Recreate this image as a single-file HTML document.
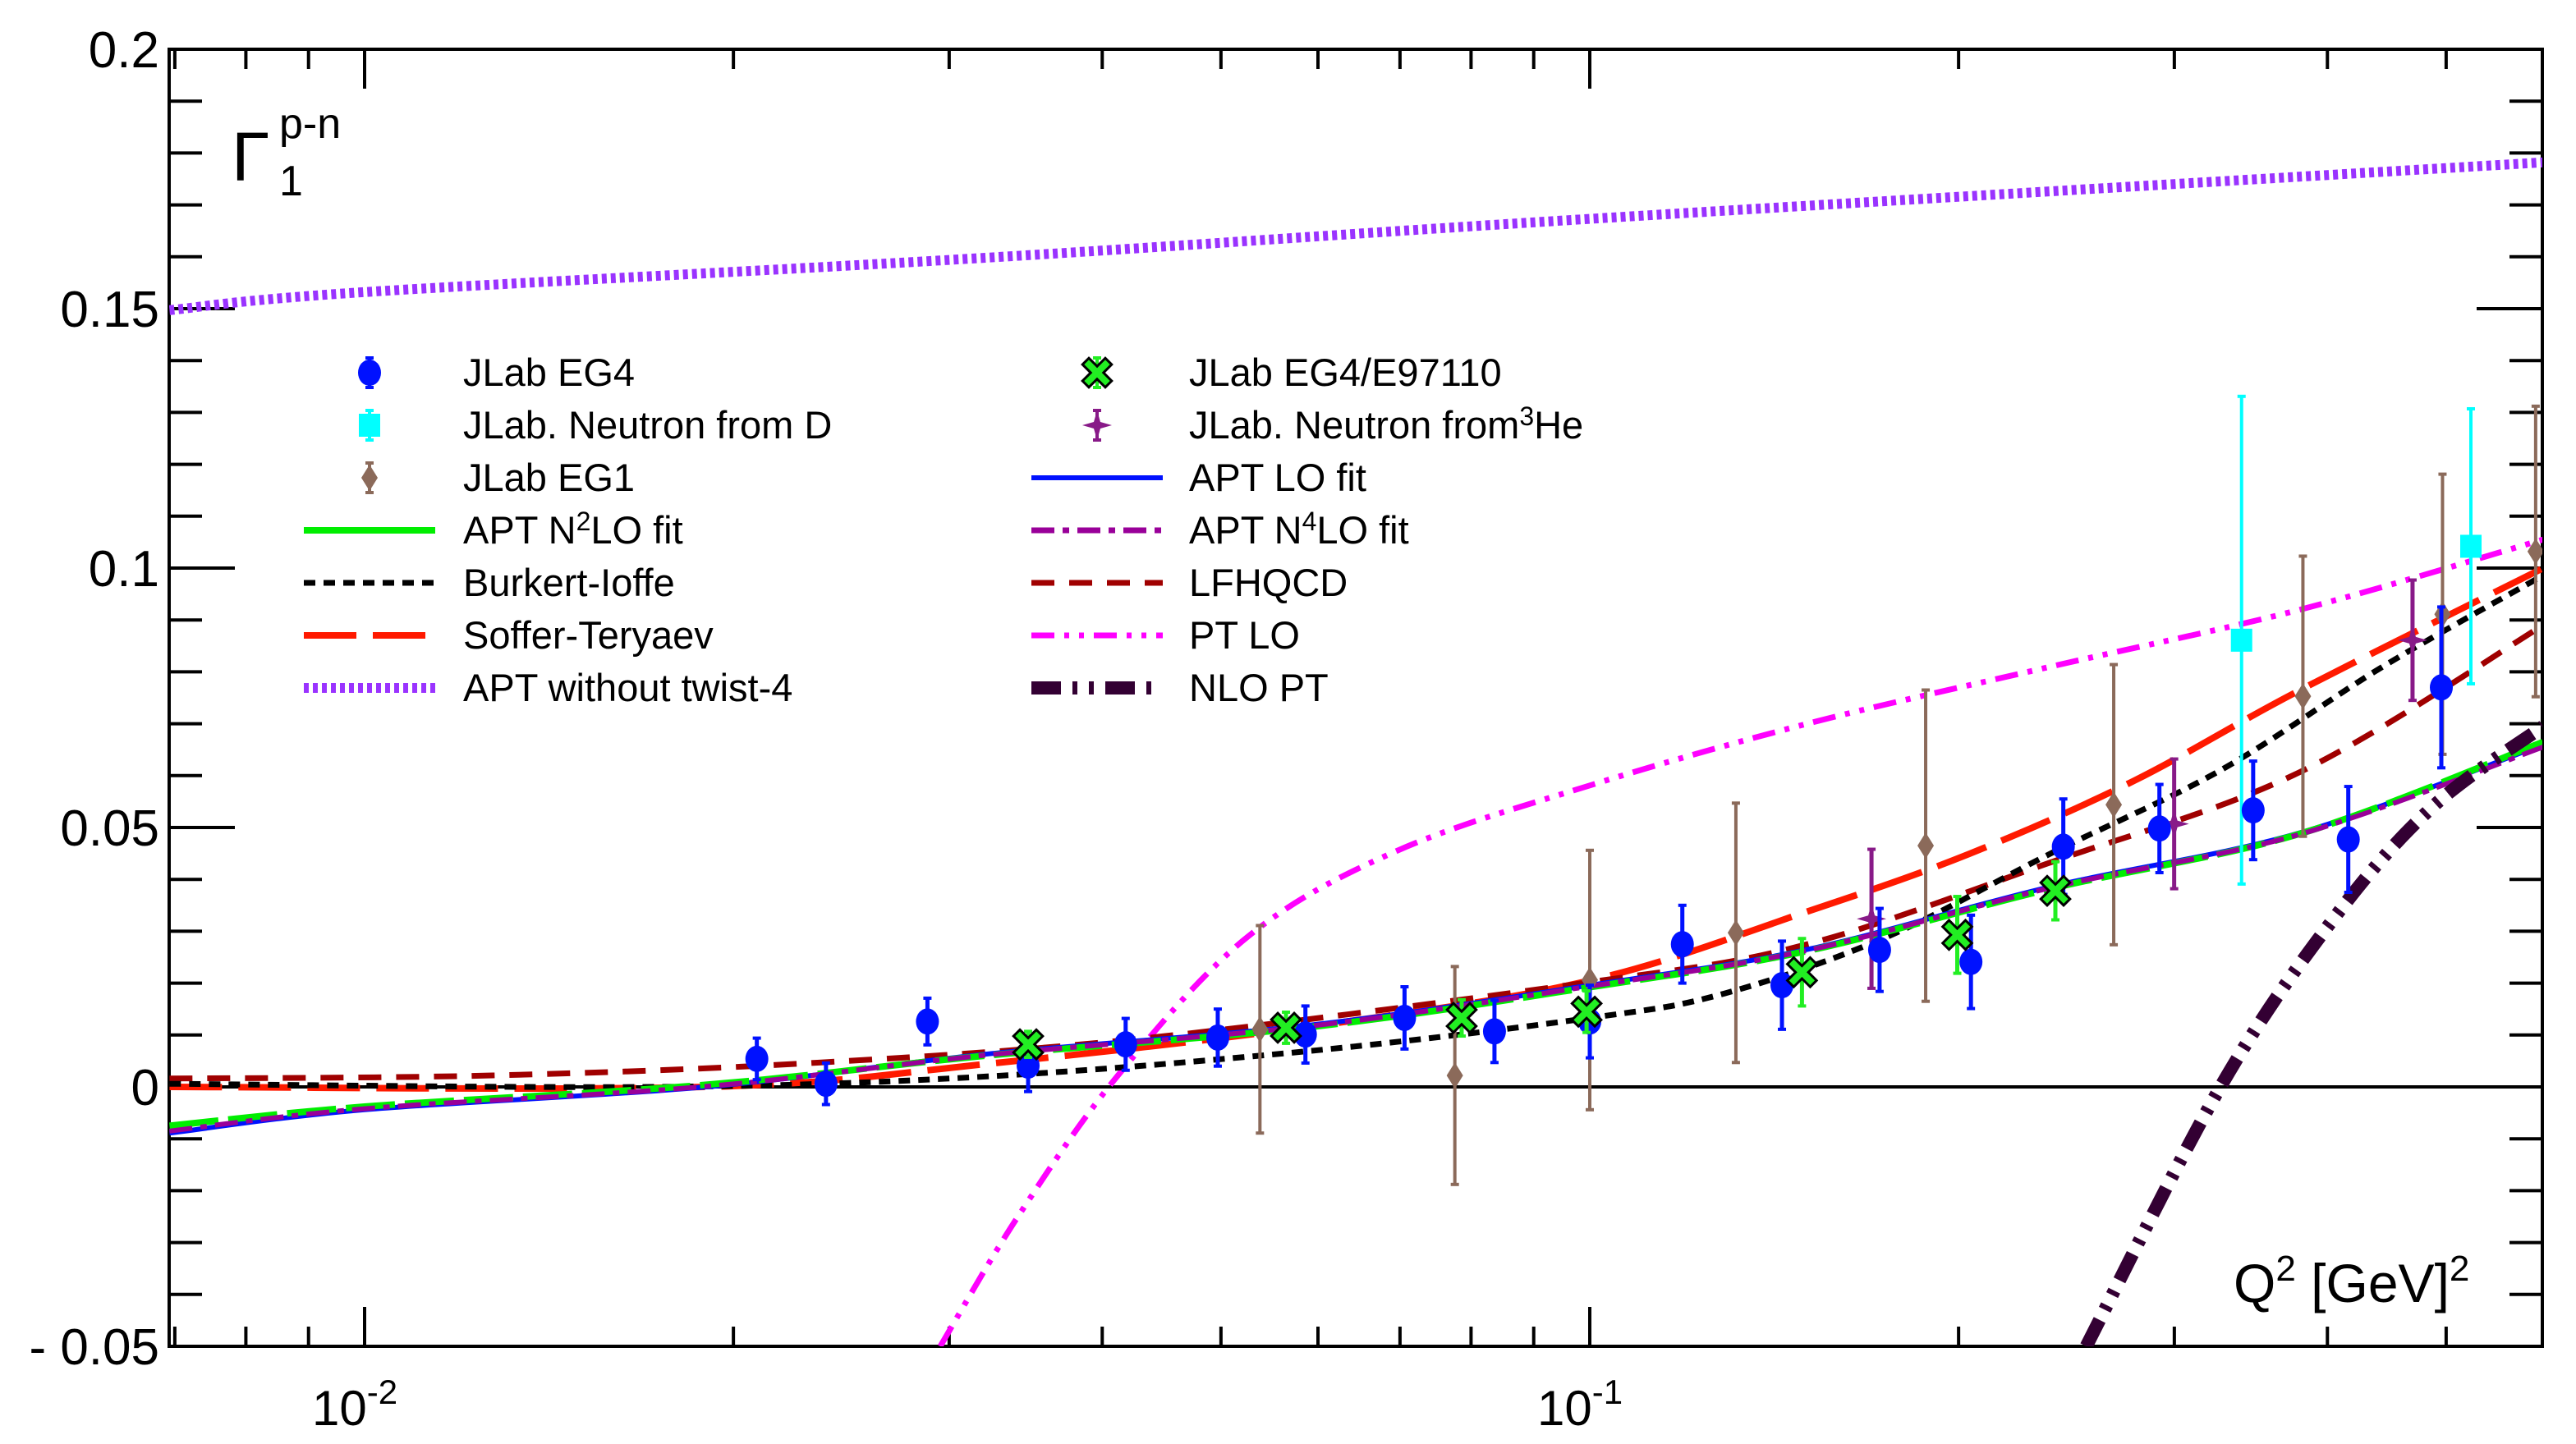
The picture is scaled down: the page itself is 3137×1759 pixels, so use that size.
<!DOCTYPE html>
<html><head><meta charset="utf-8"><style>
html,body{margin:0;padding:0;background:#fff;}
svg{display:block;font-family:"Liberation Sans",sans-serif;}
</style></head><body>
<svg id="chart" width="3137" height="1759" viewBox="0 0 1568.5 879.5" xmlns="http://www.w3.org/2000/svg">
<defs><clipPath id="plotclip"><rect x="103" y="30" width="1445" height="790"/></clipPath></defs>
<rect x="0" y="0" width="1568.5" height="879.5" fill="#fff"/>
<g id="axes"></g>
<g id="curves" clip-path="url(#plotclip)"></g>
<g id="points" clip-path="url(#plotclip)"></g>
<g id="legend"></g>
<text x="141" y="110" font-size="42">Γ</text>
<text x="170" y="84" font-size="26">p-n</text>
<text x="170" y="119" font-size="26">1</text>
<text x="1360" y="793" font-size="33">Q<tspan dy="-13" font-size="22">2</tspan><tspan dy="13"> [GeV]</tspan><tspan dy="-13" font-size="22">2</tspan></text>
</svg>
<script>
// ---- data ----
const yTicks = [-0.05, 0, 0.05, 0.1, 0.15, 0.2];
const yTickLabels = ["- 0.05", "0", "0.05", "0.1", "0.15", "0.2"];
const xDecades = [-2, -1];
const xDecadeLabels = ["-2", "-1"];

const eg4Q = [0.0209,0.0238,0.0288,0.0348,0.0418,0.0497,0.0586,0.0706,0.0836,0.1,0.119,0.1435,0.1724,0.2047,0.2435,0.2917,0.3479,0.416,0.4955];
const eg4G = [0.0054,0.0006,0.0126,0.0041,0.0082,0.0095,0.0101,0.0133,0.0107,0.0126,0.0275,0.0196,0.0264,0.0241,0.0463,0.0498,0.0533,0.0477,0.077];
const eg4E = [0.004,0.004,0.0045,0.005,0.005,0.0055,0.0055,0.006,0.006,0.007,0.0075,0.0085,0.008,0.009,0.0092,0.0085,0.0095,0.0102,0.0155];

const e97Q = [0.0348,0.0565,0.0786,0.0994,0.149,0.1995,0.2399];
const e97G = [0.0082,0.0114,0.0133,0.0145,0.0221,0.0293,0.0378];
const e97E = [0.0025,0.003,0.0035,0.004,0.0065,0.0074,0.0056];

const neuDQ = [0.3404,0.5238];
const neuDG = [0.0861,0.1042];
const neuDE = [0.047,0.0265];

const he3Q = [0.1698,0.2999,0.4694];
const he3G = [0.0324,0.0507,0.0861];
const he3E = [0.0134,0.0125,0.0116];

const eg1Q = [0.0538,0.0776,0.1,0.1316,0.188,0.2677,0.382,0.4966,0.5916];
const eg1G = [0.0111,0.0022,0.0206,0.0297,0.0465,0.0544,0.0753,0.0911,0.1032];
const eg1E = [0.020,0.021,0.025,0.025,0.030,0.027,0.027,0.027,0.028];

const curveQ_twist = [0.00693,0.01,0.0321,0.1,0.6];
const curveG_twist = [0.1497,0.1532,0.1598,0.1673,0.1782];
const curveQ_lo = [0.00693,0.01,0.01901,0.0321,0.0595,0.1,0.1505,0.2378,0.38,0.6];
const curveG_lo = [-0.0089,-0.0044,0.0,0.0063,0.012,0.0196,0.0265,0.0386,0.049,0.066];
const curveG_n2lo = [-0.0075,-0.0038,0.0004,0.0060,0.0116,0.0192,0.0262,0.0382,0.0488,0.0665];
const curveG_n4lo = [-0.0085,-0.0042,0.0001,0.0061,0.0118,0.0194,0.0263,0.0384,0.0487,0.0655];
const curveQ_bi = [0.00693,0.01733,0.0321,0.0595,0.1,0.1288,0.1751,0.2378,0.3271,0.444,0.6];
const curveG_bi = [0.0006,0.0,0.002,0.007,0.0133,0.018,0.029,0.045,0.061,0.081,0.0986];
const curveQ_st = [0.00693,0.01901,0.0321,0.0595,0.1,0.1505,0.204,0.278,0.38,0.6];
const curveG_st = [0.0,0.0,0.0044,0.0117,0.0205,0.0338,0.0449,0.059,0.0765,0.100];
const curveQ_lf = [0.00693,0.01272,0.02359,0.0438,0.1,0.1505,0.2378,0.38,0.6];
const curveG_lf = [0.0016,0.0022,0.0047,0.0095,0.0202,0.0275,0.0433,0.0607,0.089];
const curveQ_pt = [0.0295,0.0342,0.0412,0.0526,0.0696,0.1,0.1505,0.2378,0.38,0.6];
const curveG_pt = [-0.05,-0.0247,0.0022,0.029,0.0455,0.0581,0.070,0.081,0.092,0.1055];
const curveQ_nlo = [0.2542,0.3271,0.404,0.4875,0.6];
const curveG_nlo = [-0.05,0.0,0.0322,0.054,0.0695];

// ---- scales ----
const X0 = 103, X1 = 1548, Y0 = 30, Y1 = 820;
function xs(q){ return 222 + 746*(Math.log10(q)+2); }
function ys(v){ return 662 - v*3160; }
const NS = "http://www.w3.org/2000/svg";
function mk(tag, attrs, parent){ const e=document.createElementNS(NS,tag); for(const k in attrs) e.setAttribute(k,attrs[k]); parent.appendChild(e); return e; }

const axes = document.getElementById('axes');
const frame = mk('rect',{x:X0,y:Y0,width:X1-X0,height:Y1-Y0,fill:'none',stroke:'#000','stroke-width':2},axes);


const zl = mk('line',{x1:X0,x2:X1,y1:ys(0),y2:ys(0),stroke:'#000','stroke-width':2},axes);


for(let k=-5; k<=20; k++){
  const vv = k/100;
  const major = (k % 5 === 0);
  const len = major ? 40 : 20;
  const t1 = mk('line',{x1:X0,x2:X0+len,y1:ys(vv),y2:ys(vv),stroke:'#000','stroke-width':2},axes);
  
  
  const t2 = mk('line',{x1:X1-len,x2:X1,y1:ys(vv),y2:ys(vv),stroke:'#000','stroke-width':2},axes);
  
  
}
yTicks.forEach((v,i)=>{
  const t = mk('text',{x:97,y:ys(v)+11,'text-anchor':'end','font-size':31},axes);
  t.textContent = yTickLabels[i];
  
  
});
for(let d=-3; d<=0; d++){
  for(let m=1; m<=9; m++){
    const q = m*Math.pow(10,d);
    const x = xs(q);
    if(x < X0 || x > X1) continue;
    const len = m===1 ? 24 : 12;
    const a = mk('line',{x1:x,x2:x,y1:Y1,y2:Y1-len,stroke:'#000','stroke-width':2},axes);
    
    
    const b = mk('line',{x1:x,x2:x,y1:Y0,y2:Y0+len,stroke:'#000','stroke-width':2},axes);
    
    
  }
}
xDecades.forEach((d,i)=>{
  const x = xs(Math.pow(10,d));
  const t = mk('text',{x:x-32,y:868,'font-size':30},axes);
  t.textContent = '10';
  const s = mk('tspan',{dy:-13,'font-size':21},t);
  s.textContent = xDecadeLabels[i];
  
  
});

const curves = document.getElementById('curves');
function curve(name, Q, G, style){
  const P = Q.map((q,i)=>[xs(q), ys(G[i])]);
  let d = 'M'+P[0][0].toFixed(1)+','+P[0][1].toFixed(1);
  for(let i=0;i<P.length-1;i++){
    const p0=P[Math.max(0,i-1)], p1=P[i], p2=P[i+1], p3=P[Math.min(P.length-1,i+2)];
    const c1=[p1[0]+(p2[0]-p0[0])/6, p1[1]+(p2[1]-p0[1])/6];
    const c2=[p2[0]-(p3[0]-p1[0])/6, p2[1]-(p3[1]-p1[1])/6];
    d += ' C'+c1[0].toFixed(1)+','+c1[1].toFixed(1)+' '+c2[0].toFixed(1)+','+c2[1].toFixed(1)+' '+p2[0].toFixed(1)+','+p2[1].toFixed(1);
  }
  const p = mk('path',Object.assign({d:d,fill:'none','stroke-linejoin':'round'},style),curves);
  
  
}
curve('apt-without-twist4-curve',curveQ_twist,curveG_twist,{stroke:'#9a33ff','stroke-width':6,'stroke-dasharray':'3,2.5'});
curve('pt-lo-curve',curveQ_pt,curveG_pt,{stroke:'#ff00ff','stroke-width':3.5,'stroke-dasharray':'14,6,3,6,3,6'});
curve('soffer-teryaev-curve',curveQ_st,curveG_st,{stroke:'#ff1a00','stroke-width':4,'stroke-dasharray':'32,10'});
curve('lfhqcd-curve',curveQ_lf,curveG_lf,{stroke:'#a00000','stroke-width':3.5,'stroke-dasharray':'14,9'});
curve('burkert-ioffe-curve',curveQ_bi,curveG_bi,{stroke:'#000','stroke-width':3.5,'stroke-dasharray':'7,5'});
curve('apt-lo-fit-curve',curveQ_lo,curveG_lo,{stroke:'#0011ff','stroke-width':3});
curve('apt-n2lo-fit-curve',curveQ_lo,curveG_n2lo,{stroke:'#00ee00','stroke-width':4,'stroke-dasharray':'30,6'});
curve('apt-n4lo-fit-curve',curveQ_lo,curveG_n4lo,{stroke:'#990099','stroke-width':3,'stroke-dasharray':'14,5,4,5'});
curve('nlo-pt-curve',curveQ_nlo,curveG_nlo,{stroke:'#330033','stroke-width':8,'stroke-dasharray':'18,7,3,7,3,7'});

const pts = document.getElementById('points');
const lg = document.getElementById('legend');
function errbar(x,y1,y2,color,w,parent){
  const l = mk('line',{x1:x,x2:x,y1:y1,y2:y2,stroke:color,'stroke-width':w},parent);
  
  
  [y1,y2].forEach(yy=>{
    const c = mk('line',{x1:x-2.5,x2:x+2.5,y1:yy,y2:yy,stroke:color,'stroke-width':2},parent);
    
    
  });
}
function marker(kind,x,y,color,name,parent){
  let m;
  if(kind==='circle') m = mk('ellipse',{cx:x,cy:y,rx:7,ry:8,fill:color},parent);
  else if(kind==='square') m = mk('rect',{x:x-6.5,y:y-7,width:13,height:14,fill:color},parent);
  else if(kind==='diamond') m = mk('polygon',{points:`${x},${y-8} ${x+5},${y} ${x},${y+8} ${x-5},${y}`,fill:color},parent);
  else if(kind==='star') m = mk('polygon',{points:`${x},${y-9} ${x+2},${y-2} ${x+9},${y} ${x+2},${y+2} ${x},${y+9} ${x-2},${y+2} ${x-9},${y} ${x-2},${y-2}`,fill:color},parent);
  else {
    const g = mk('g',{},parent);
    mk('path',{d:`M${x-5},${y-5}L${x+5},${y+5}M${x+5},${y-5}L${x-5},${y+5}`,stroke:'#000','stroke-width':7,'stroke-linecap':'square'},g);
    mk('path',{d:`M${x-5},${y-5}L${x+5},${y+5}M${x+5},${y-5}L${x-5},${y+5}`,stroke:color,'stroke-width':4,'stroke-linecap':'square'},g);
    m = g;
  }
  
  
}
function series(Q,G,E,color,kind,name,w){
  Q.forEach((q,i)=>{
    const x=xs(q);
    errbar(x,ys(G[i]+E[i]),ys(G[i]-E[i]),color,w,pts);
    marker(kind,x,ys(G[i]),color,name,pts);
  });
}
series(eg1Q,eg1G,eg1E,'#8b6a5a','diamond','jlab-eg1-point',2);
series(neuDQ,neuDG,neuDE,'#00ffff','square','neutron-d-point',2);
series(he3Q,he3G,he3E,'#881a88','star','neutron-he3-point',2.5);
series(eg4Q,eg4G,eg4E,'#0011ff','circle','jlab-eg4-point',2.5);
series(e97Q,e97G,e97E,'#22ee22','cross','eg4-e97110-point',2.5);

const legendItems = [
 [0,'JLab EG4','circle','#0011ff'],
 [0,'JLab. Neutron from D','square','#00ffff'],
 [0,'JLab EG1','diamond','#8b6a5a'],
 [0,'APT N2LO fit','line',{stroke:'#00ee00','stroke-width':4}],
 [0,'Burkert-Ioffe','line',{stroke:'#000','stroke-width':3.5,'stroke-dasharray':'7,5'}],
 [0,'Soffer-Teryaev','line',{stroke:'#ff1a00','stroke-width':4,'stroke-dasharray':'32,10'}],
 [0,'APT without twist-4','line',{stroke:'#9a33ff','stroke-width':6,'stroke-dasharray':'3,2.5'}],
 [1,'JLab EG4/E97110','cross','#22ee22'],
 [1,'JLab. Neutron from3He','star','#881a88'],
 [1,'APT LO fit','line',{stroke:'#0011ff','stroke-width':3}],
 [1,'APT N4LO fit','line',{stroke:'#990099','stroke-width':3.5,'stroke-dasharray':'14,5,4,5'}],
 [1,'LFHQCD','line',{stroke:'#a00000','stroke-width':3.5,'stroke-dasharray':'14,9'}],
 [1,'PT LO','line',{stroke:'#ff00ff','stroke-width':3.5,'stroke-dasharray':'14,6,3,6,3,6'}],
 [1,'NLO PT','line',{stroke:'#330033','stroke-width':8,'stroke-dasharray':'18,7,3,7,3,7'}]
];
const colCount=[0,0];
function tsp(t,txt,dy,fs){ const s=mk('tspan',dy?{dy:dy}:{},t); if(fs) s.setAttribute('font-size',fs); s.textContent=txt; }
legendItems.forEach(it=>{
  const col=it[0], row=colCount[col]++;
  const y = 227 + row*32;
  const mx = col===0 ? 225 : 668;
  const tx = col===0 ? 282 : 724;
  if(it[2]==='line'){
    const l = mk('line',Object.assign({x1:mx-40,x2:mx+40,y1:y,y2:y},it[3]),lg);
    
    
  } else {
    errbar(mx,y-9,y+9,it[3],2,lg);
    marker(it[2],mx,y,it[3],'legend-marker',lg);
  }
  const t = mk('text',{x:tx,y:y+8,'font-size':23.5},lg);
  if(it[1]==='APT N2LO fit'){ tsp(t,'APT N'); tsp(t,'2',-8,16); tsp(t,'LO fit',8); }
  else if(it[1]==='APT N4LO fit'){ tsp(t,'APT N'); tsp(t,'4',-8,16); tsp(t,'LO fit',8); }
  else if(it[1]==='JLab. Neutron from3He'){ tsp(t,'JLab. Neutron from'); tsp(t,'3',-8,16); tsp(t,'He',8); }
  else t.textContent = it[1];
  
  
});
</script>
</body></html>
